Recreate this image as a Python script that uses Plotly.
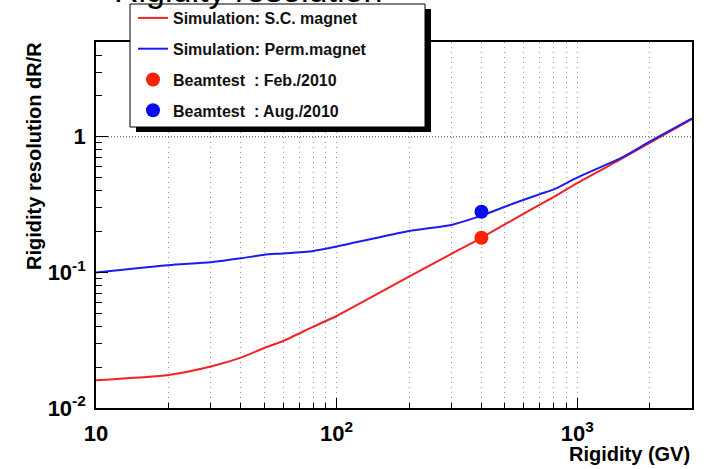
import plotly.graph_objects as go

# ---------------- data ----------------
rigidity = [10, 20, 30, 40, 50, 60, 80, 100, 200, 300, 400, 500, 600, 700, 800, 1000, 1500, 2000, 3000]
res_sc = [0.0160, 0.0175, 0.0202, 0.0235, 0.0277, 0.0312, 0.0398, 0.0477, 0.093, 0.137, 0.180,
          0.226, 0.271, 0.316, 0.360, 0.455, 0.675, 0.90, 1.35]
res_perm = [0.100, 0.113, 0.119, 0.127, 0.135, 0.138, 0.144, 0.155, 0.202, 0.224, 0.262,
            0.305, 0.343, 0.378, 0.410, 0.500, 0.690, 0.92, 1.37]

beam_feb_x = [400]
beam_feb_y = [0.18]
beam_aug_x = [400]
beam_aug_y = [0.28]

ref_level_x = [10, 3000]
ref_level_y = [1.0, 1.0]

x_major = [10, 100, 1000]
x_major_text = ["10", "10<sup>2</sup>", "10<sup>3</sup>"]
x_minor = [20, 30, 40, 50, 60, 70, 80, 90, 200, 300, 400, 500, 600, 700, 800, 900, 2000]
y_major = [0.01, 0.1, 1]
y_major_text = ["10<sup>-2</sup>", "10<sup>-1</sup>", "1"]
y_minor = [0.02, 0.03, 0.04, 0.05, 0.06, 0.07, 0.08, 0.09,
           0.2, 0.3, 0.4, 0.5, 0.6, 0.7, 0.8, 0.9, 2, 3, 4]

names = ["Simulation: S.C. magnet", "Simulation: Perm.magnet",
         "Beamtest&nbsp;&nbsp;: Feb./2010", "Beamtest&nbsp;&nbsp;: Aug./2010"]

# ---------------- geometry ----------------
W, H = 709, 469
L, R, T, B = 96, 17, 42, 61
PW, PH = W - L - R, H - T - B


def px(xp):
    return (xp - L) / PW


def py(yp):
    return (H - B - yp) / PH


FONT = "Liberation Sans, Arial, Helvetica, sans-serif"
RED = "#f42222"
BLUE = "#1c1cf0"

fig = go.Figure()

fig.add_trace(go.Scatter(x=ref_level_x, y=ref_level_y, mode="lines",
                         line=dict(color="#444", width=1, dash="1px,2px"),
                         showlegend=False, hoverinfo="skip"))
fig.add_trace(go.Scatter(x=rigidity, y=res_sc, mode="lines", name=names[0],
                         line=dict(color=RED, width=2, shape="spline", smoothing=0.6),
                         legendgroup="a"))
fig.add_trace(go.Scatter(x=rigidity, y=res_perm, mode="lines", name=names[1],
                         line=dict(color=BLUE, width=2, shape="spline", smoothing=0.6),
                         legendgroup="b"))
fig.add_trace(go.Scatter(x=beam_feb_x, y=beam_feb_y, mode="markers", name=names[2],
                         marker=dict(color="#ff2000", size=14), legendgroup="c"))
fig.add_trace(go.Scatter(x=beam_aug_x, y=beam_aug_y, mode="markers", name=names[3],
                         marker=dict(color="#0a0aee", size=14), legendgroup="d"))

grid_col = "#9a9a9a"
fig.update_xaxes(
    type="log", range=[1, 3.4771],
    tickmode="array", tickvals=x_major, ticktext=x_major_text,
    ticks="inside", ticklen=10, tickwidth=1.2, tickcolor="black",
    showline=True, linecolor="black", linewidth=1.6, mirror=True,
    showgrid=True, gridcolor=grid_col, griddash="1px,4px", gridwidth=1,
    minor=dict(tickmode="array", tickvals=x_minor, ticks="inside", ticklen=5,
               tickcolor="black", tickwidth=1,
               showgrid=True, gridcolor=grid_col, griddash="1px,4px", gridwidth=1),
    tickfont=dict(family=FONT, size=22, color="black", weight="bold"),
    ticklabelstandoff=5, zeroline=False,
)
fig.update_yaxes(
    type="log", range=[-2, 0.699],
    tickmode="array", tickvals=y_major, ticktext=y_major_text,
    ticks="inside", ticklen=12, tickwidth=1.2, tickcolor="black",
    showline=True, linecolor="black", linewidth=1.6, mirror=True,
    showgrid=False,
    minor=dict(tickmode="array", tickvals=y_minor, ticks="inside", ticklen=6,
               tickcolor="black", tickwidth=1, showgrid=False),
    tickfont=dict(family=FONT, size=22, color="black", weight="bold"),
    ticklabelstandoff=4, zeroline=False,
)

# legend box (white with black shadow) drawn as shapes
box = (130, 4, 425, 127)
fig.add_shape(type="rect", xref="paper", yref="paper",
              x0=px(box[0] + 6), x1=px(box[2] + 6), y0=py(box[1] + 5), y1=py(box[3] + 5),
              fillcolor="black", line=dict(width=0), layer="above")
fig.add_shape(type="rect", xref="paper", yref="paper",
              x0=px(box[0]), x1=px(box[2]), y0=py(box[1]), y1=py(box[3]),
              fillcolor="white", line=dict(color="black", width=1), layer="above")

annotations = [
    dict(text="Rigidity resolution", xref="paper", yref="paper",
         x=px(112), y=py(-10), xanchor="left", yanchor="middle", showarrow=False,
         font=dict(family=FONT, size=34, color="black")),
    dict(text="Rigidity resolution dR/R", xref="paper", yref="paper",
         x=px(34), y=py(40), xanchor="center", yanchor="top", textangle=-90,
         showarrow=False, font=dict(family=FONT, size=20, color="black", weight="bold")),
    dict(text="Rigidity (GV)", xref="paper", yref="paper",
         x=1.0, y=py(454), xanchor="right", yanchor="middle", showarrow=False,
         font=dict(family=FONT, size=20, color="black", weight="bold")),
]

fig.update_layout(
    width=W, height=H,
    margin=dict(l=L, r=R, t=T, b=B, autoexpand=False),
    paper_bgcolor="white", plot_bgcolor="white",
    showlegend=True,
    legend=dict(x=px(133), y=py(1), xanchor="left", yanchor="top",
                bgcolor="rgba(0,0,0,0)", borderwidth=0,
                traceorder="grouped", tracegroupgap=7,
                font=dict(family=FONT, size=16, color="#111", weight="bold")),
    annotations=annotations,
)

fig.write_html("out.html")
